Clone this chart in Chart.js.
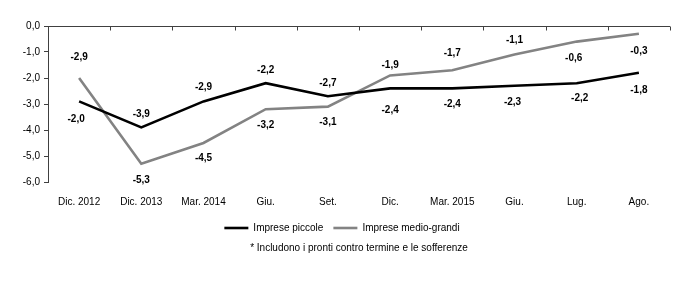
<!DOCTYPE html>
<html><head><meta charset="utf-8">
<script src="https://cdn.jsdelivr.net/npm/chart.js@4/dist/chart.umd.min.js"></script>
<style>html,body{margin:0;padding:0;background:#fff}#wrap{width:700px;height:300px;position:relative}</style>
</head><body><div id="wrap"><canvas id="c"></canvas></div>
<script>
const categories = ['Dic. 2012','Dic. 2013','Mar. 2014','Giu.','Set.','Dic.','Mar. 2015','Giu.','Lug.','Ago.'];
const impresePiccole = [-2.9,-3.9,-2.9,-2.2,-2.7,-2.4,-2.4,-2.3,-2.2,-1.8];
const impreseMedioGrandi = [-2.0,-5.3,-4.5,-3.2,-3.1,-1.9,-1.7,-1.1,-0.6,-0.3];
const yTickValues = [0,-1,-2,-3,-4,-5,-6];
const seriesNames = ['Imprese piccole','Imprese medio-grandi'];
const footnote = '* Includono i pronti contro termine e le sofferenze';

// label placement (pixel offsets from each point)
const piccoleLabelDy = [-44,-13,-14,-13,-13,22,16,16,15,17];
const piccoleLabelDx = [0,0,0,0,0,0,0,-2,3,0];
const medioLabelDy = [41,16,15,16,16,-10,-17,-14,17,17];
const medioLabelDx = [-3,0,0,0,0,0,0,0,-3,0];

const FF = '"Liberation Sans Narrow","Arial Narrow","Liberation Sans",Arial,sans-serif';
const FS = 10;
const axisColor = '#404040';
const fmt = v => v.toFixed(1).replace('.', ',');

const valueLabels = {
  id: 'valueLabels',
  afterDatasetsDraw(chart) {
    const ctx = chart.ctx;
    ctx.save();
    ctx.font = 'bold ' + FS + 'px ' + FF;
    ctx.fillStyle = '#000';
    ctx.textAlign = 'center';
    ctx.textBaseline = 'middle';
    chart.data.datasets.forEach((ds, di) => {
      chart.getDatasetMeta(di).data.forEach((pt, i) => {
        ctx.fillText(fmt(ds.data[i]), pt.x + ds.labelDx[i], pt.y + ds.labelDy[i]);
      });
    });
    ctx.restore();
  }
};

const topAxis = {
  id: 'topAxis',
  afterDraw(chart) {
    const xs = chart.scales.x, ys = chart.scales.y, ctx = chart.ctx;
    const y0 = Math.round(ys.getPixelForValue(0)) + 0.5;
    ctx.save();
    ctx.strokeStyle = axisColor;
    ctx.lineWidth = 1;
    ctx.beginPath();
    ctx.moveTo(xs.left, y0);
    ctx.lineTo(xs.right, y0);
    for (let i = 0; i <= categories.length; i++) {
      const px = Math.round(xs.getPixelForValue(i - 0.5)) + 0.5;
      ctx.moveTo(px, y0);
      ctx.lineTo(px, y0 + 4);
    }
    ctx.stroke();
    ctx.restore();
  }
};

new Chart(document.getElementById('c'), {
  type: 'line',
  data: {
    labels: categories,
    datasets: [
      { label: seriesNames[0], data: impresePiccole, borderColor: '#000000', backgroundColor: '#000000',
        borderWidth: 2.6, pointRadius: 0, tension: 0, labelDy: piccoleLabelDy, labelDx: piccoleLabelDx },
      { label: seriesNames[1], data: impreseMedioGrandi, borderColor: '#838383', backgroundColor: '#838383',
        borderWidth: 2.6, pointRadius: 0, tension: 0, labelDy: medioLabelDy, labelDx: medioLabelDx }
    ]
  },
  options: {
    responsive: true,
    maintainAspectRatio: false,
    animation: false,
    layout: { padding: { left: 14, right: 30, top: 26, bottom: 46 } },
    scales: {
      x: {
        offset: true,
        grid: { display: false, drawTicks: false },
        border: { display: false },
        ticks: { font: { family: FF, size: FS }, color: '#000', padding: 14, maxRotation: 0, autoSkip: false },
        afterFit: s => { s.height = 31; }
      },
      y: {
        min: -6, max: 0,
        afterBuildTicks: s => { s.ticks = yTickValues.map(v => ({ value: v })); },
        ticks: { font: { family: FF, size: FS }, color: '#000', padding: 4, callback: v => fmt(v) },
        grid: { display: true, drawOnChartArea: false, drawTicks: true, tickLength: 4, color: axisColor },
        border: { display: true, color: axisColor },
        afterFit: s => { s.width = 34; }
      }
    },
    plugins: {
      legend: {
        position: 'bottom',
        labels: { usePointStyle: true, pointStyle: 'line', pointStyleWidth: 24, padding: 10,
                  font: { family: FF, size: FS }, color: '#000' }
      },
      subtitle: {
        display: true, text: footnote, position: 'bottom', fullSize: false,
        font: { family: FF, size: FS, weight: 'normal' }, color: '#000',
        padding: { top: -1, bottom: 0 }
      },
      tooltip: { enabled: false }
    }
  },
  plugins: [valueLabels, topAxis]
});
</script>
</body></html>
